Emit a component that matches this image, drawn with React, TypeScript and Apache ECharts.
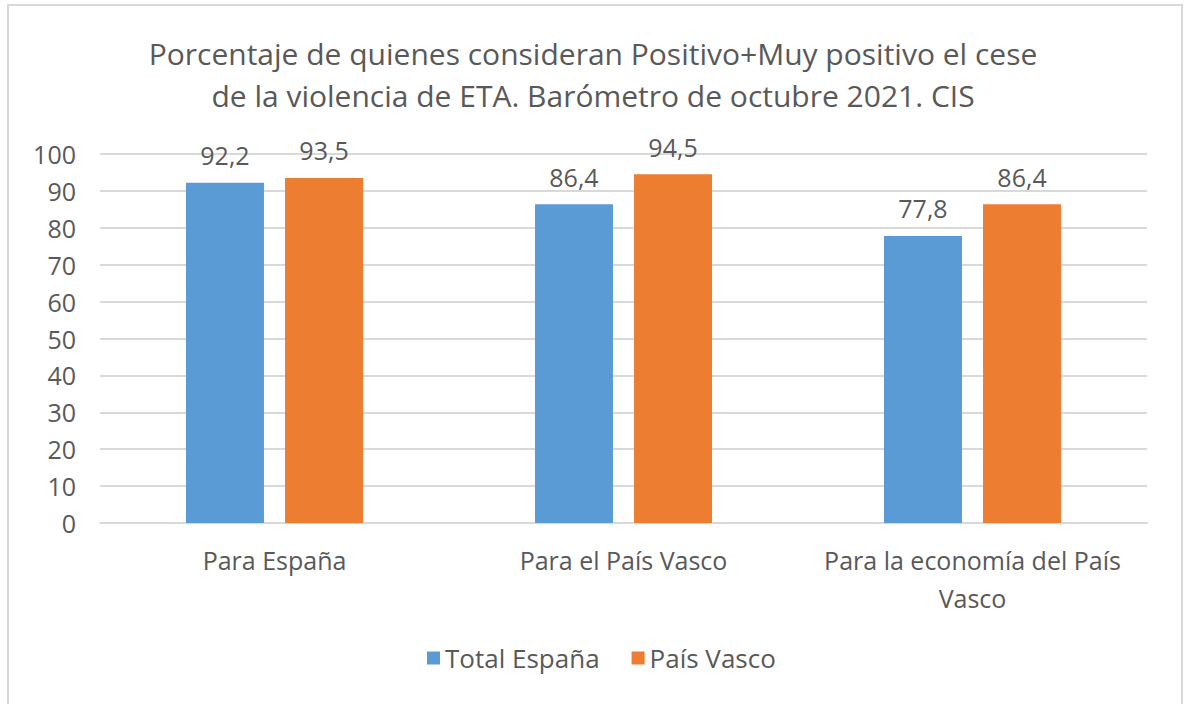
import React, { useEffect, useRef } from "react";
import * as echarts from "echarts";

const categories = ["Para España", "Para el País Vasco", "Para la economía del País\nVasco"];
const totalEspana = [92.2, 86.4, 77.8];
const paisVasco = [93.5, 94.5, 86.4];
const seriesNames = ["Total España", "País Vasco"];
const titleLines = [
  "Porcentaje de quienes consideran Positivo+Muy positivo el cese",
  "de la violencia de ETA. Barómetro de octubre 2021. CIS",
];

const FONT = "'Open Sans', 'Noto Sans', sans-serif";
const GRAY = "#595959";
const FS = 25;

export default function App() {
  const ref = useRef<HTMLDivElement>(null);
  useEffect(() => {
    if (!ref.current) return;
    const chart = echarts.init(ref.current, undefined, { renderer: "svg" });
    const fmt = (p: any) => String(p.value).replace(".", ",");
    const label = {
      show: true,
      position: "top",
      distance: 15,
      formatter: fmt,
      fontFamily: FONT,
      fontSize: FS,
      color: GRAY,
    };
    chart.setOption({
      animation: false,
      backgroundColor: "#ffffff",
      textStyle: { fontFamily: FONT },
      title: {
        text: titleLines.join("\n"),
        left: "center",
        top: 32,
        padding: 0,
        textStyle: {
          fontFamily: FONT,
          fontSize: 30,
          fontWeight: "normal",
          color: GRAY,
          lineHeight: 42,
        },
      },
      graphic: [
        {
          type: "rect",
          shape: { x: 8, y: 5, width: 1174, height: 720 },
          style: { fill: "none", stroke: "#d9d9d9", lineWidth: 2 },
          silent: true,
        },
      ],
      legend: {
        bottom: 28,
        left: 422,
        itemWidth: 13,
        itemHeight: 13,
        itemGap: 32,
        itemStyle: {},
        icon: "rect",
        textStyle: { fontFamily: FONT, fontSize: 26, color: GRAY },
        data: seriesNames,
      },
      grid: { left: 100, right: 39, top: 154, bottom: 181, containLabel: false },
      xAxis: {
        type: "category",
        data: categories,
        axisLine: { show: true, lineStyle: { color: "#d9d9d9", width: 2 } },
        axisTick: { show: false },
        axisLabel: {
          fontFamily: FONT,
          fontSize: FS,
          color: GRAY,
          margin: 18,
          lineHeight: 38,
          interval: 0,
        },
      },
      yAxis: {
        type: "value",
        min: 0,
        max: 100,
        interval: 10,
        axisLine: { show: false },
        axisTick: { show: false },
        axisLabel: { fontFamily: FONT, fontSize: FS, color: GRAY, margin: 24 },
        splitLine: { lineStyle: { color: "#d9d9d9", width: 2 } },
      },
      series: [
        {
          name: seriesNames[0],
          type: "bar",
          data: totalEspana,
          barWidth: 78,
          barGap: "27%",
          itemStyle: { color: "#5b9bd5" },
          label,
        },
        {
          name: seriesNames[1],
          type: "bar",
          data: paisVasco,
          barWidth: 78,
          barGap: "27%",
          itemStyle: { color: "#ed7d31" },
          label,
        },
      ],
    });
    return () => chart.dispose();
  }, []);
  return (
    <div
      ref={ref}
      style={{ position: "absolute", left: 0, top: 0, width: 1186, height: 704 }}
    />
  );
}
